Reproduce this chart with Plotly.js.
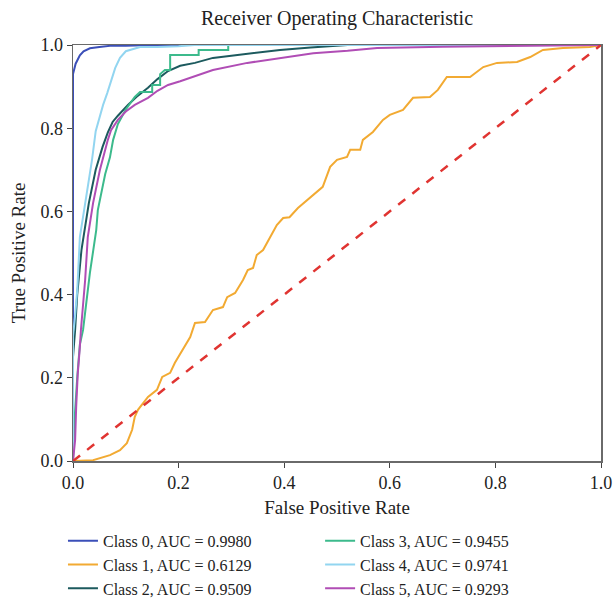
<!DOCTYPE html>
<html>
<head>
<meta charset="utf-8">
<script src="https://cdn.plot.ly/plotly-3.0.1.min.js"></script>
<style>html,body{margin:0;padding:0;background:#fff;}#chart{width:614px;height:599px;}</style>
</head>
<body>
<div id="chart"></div>
<script>
const classNames = ["Class 0", "Class 1", "Class 2", "Class 3", "Class 4", "Class 5"];
const aucValues = ["0.9980", "0.6129", "0.9509", "0.9455", "0.9741", "0.9293"];

const fpr0 = [0, 0, 0.005, 0.013, 0.02, 0.032, 0.05, 0.07, 0.1, 0.15, 0.3, 1];
const tpr0 = [0, 0.93, 0.955, 0.975, 0.985, 0.992, 0.995, 0.998, 0.998, 1, 1, 1];

const fpr1 = [0, 0.038, 0.07, 0.089, 0.102, 0.112, 0.117, 0.123, 0.142, 0.159, 0.169, 0.184, 0.193, 0.208, 0.222, 0.231, 0.25, 0.265, 0.284, 0.292, 0.307, 0.322, 0.331, 0.341, 0.348, 0.36, 0.386, 0.398, 0.41, 0.426, 0.449, 0.473, 0.487, 0.5, 0.519, 0.525, 0.544, 0.549, 0.568, 0.587, 0.6, 0.625, 0.644, 0.676, 0.691, 0.708, 0.752, 0.777, 0.803, 0.841, 0.866, 0.89, 0.928, 0.979, 1];
const tpr1 = [0, 0.002, 0.014, 0.026, 0.043, 0.075, 0.106, 0.123, 0.154, 0.171, 0.202, 0.212, 0.236, 0.267, 0.298, 0.332, 0.334, 0.363, 0.37, 0.394, 0.404, 0.435, 0.459, 0.464, 0.495, 0.507, 0.567, 0.584, 0.586, 0.608, 0.632, 0.659, 0.707, 0.724, 0.731, 0.748, 0.748, 0.772, 0.791, 0.82, 0.832, 0.844, 0.873, 0.875, 0.892, 0.923, 0.923, 0.947, 0.957, 0.959, 0.971, 0.988, 0.993, 0.995, 1];

const fpr2 = [0, 0, 0.004, 0.008, 0.016, 0.03, 0.043, 0.056, 0.066, 0.075, 0.085, 0.095, 0.104, 0.12, 0.142, 0.16, 0.18, 0.203, 0.231, 0.265, 0.33, 0.392, 0.45, 0.52, 1];
const tpr2 = [0, 0.25, 0.315, 0.40, 0.507, 0.62, 0.70, 0.755, 0.79, 0.815, 0.83, 0.845, 0.856, 0.875, 0.897, 0.918, 0.9375, 0.95, 0.957, 0.969, 0.978, 0.988, 0.994, 1, 1];

const fpr3 = [0, 0.003, 0.008, 0.013, 0.019, 0.023, 0.032, 0.044, 0.047, 0.061, 0.07, 0.076, 0.085, 0.1, 0.117, 0.127, 0.15, 0.15, 0.165, 0.165, 0.174, 0.184, 0.184, 0.238, 0.238, 0.294, 0.294, 1];
const tpr3 = [0, 0.1, 0.2, 0.28, 0.315, 0.356, 0.452, 0.555, 0.603, 0.69, 0.73, 0.772, 0.81, 0.845, 0.875, 0.887, 0.887, 0.904, 0.904, 0.93, 0.94, 0.94, 0.976, 0.976, 0.988, 0.988, 1, 1];

const fpr4 = [0, 0, 0.004, 0.008, 0.013, 0.021, 0.028, 0.036, 0.043, 0.049, 0.057, 0.065, 0.072, 0.08, 0.089, 0.1, 0.127, 0.16, 0.2, 0.23, 1];
const tpr4 = [0, 0.3, 0.35, 0.41, 0.538, 0.603, 0.66, 0.724, 0.793, 0.82, 0.856, 0.885, 0.913, 0.945, 0.969, 0.985, 0.995, 0.995, 0.997, 1, 1];

const fpr5 = [0, 0.002, 0.004, 0.006, 0.009, 0.013, 0.015, 0.023, 0.028, 0.038, 0.051, 0.066, 0.072, 0.085, 0.1, 0.117, 0.142, 0.16, 0.18, 0.203, 0.231, 0.265, 0.33, 0.392, 0.455, 0.52, 0.576, 0.7, 0.866, 1];
const tpr5 = [0, 0.02, 0.05, 0.13, 0.21, 0.274, 0.315, 0.435, 0.538, 0.62, 0.70, 0.772, 0.795, 0.82, 0.84, 0.856, 0.873, 0.89, 0.904, 0.913, 0.925, 0.94, 0.957, 0.969, 0.98, 0.986, 0.993, 0.996, 0.998, 1];

const chanceX = [0, 1];
const chanceY = [0, 1];

const colors = ["#3b4fb8", "#f2aa32", "#1c5a5e", "#3cba8c", "#92d5f0", "#b04db5"];
const fprs = [fpr0, fpr1, fpr2, fpr3, fpr4, fpr5];
const tprs = [tpr0, tpr1, tpr2, tpr3, tpr4, tpr5];

const FONT = "Liberation Serif, Times New Roman, serif";
const traces = [];
for (let i = 0; i < 6; i++) {
  traces.push({
    x: fprs[i], y: tprs[i], type: "scatter", mode: "lines",
    name: classNames[i] + ", AUC = " + aucValues[i],
    line: {color: colors[i], width: 2},
    legend: i < 3 ? "legend" : "legend2"
  });
}
traces.push({
  x: chanceX, y: chanceY, type: "scatter", mode: "lines",
  line: {color: "#e03431", width: 2.5, dash: "dash"},
  showlegend: false
});

const axisCommon = {
  range: [0, 1], dtick: 0.2, tickformat: ".1f",
  showgrid: false, zeroline: false,
  showline: true, mirror: true, linecolor: "#6a6a6a", linewidth: 1.5,
  ticks: "outside", ticklen: 5, tickcolor: "#444", tickwidth: 1,
  tickfont: {family: FONT, size: 18, color: "#222"}
};

const layout = {
  width: 614, height: 599,
  margin: {l: 73, r: 13, t: 45, b: 138, autoexpand: false},
  paper_bgcolor: "#fff", plot_bgcolor: "#fff",
  font: {family: FONT, color: "#222"},
  title: {text: "Receiver Operating Characteristic", x: 0.5, xref: "paper", y: 0.97, yanchor: "middle",
          font: {family: FONT, size: 20, color: "#222"}},
  xaxis: Object.assign({}, axisCommon, {title: {text: "False Positive Rate", standoff: 8, font: {family: FONT, size: 19, color: "#222"}}}),
  yaxis: Object.assign({}, axisCommon, {title: {text: "True Positive Rate", standoff: 10, font: {family: FONT, size: 19, color: "#222"}}}),
  legend: {x: -0.019, y: -0.151, xanchor: "left", yanchor: "top", orientation: "v",
           font: {family: FONT, size: 16, color: "#222"}, bgcolor: "rgba(0,0,0,0)", tracegroupgap: 0},
  legend2: {x: 0.468, y: -0.151, xanchor: "left", yanchor: "top", orientation: "v",
           font: {family: FONT, size: 16, color: "#222"}, bgcolor: "rgba(0,0,0,0)", tracegroupgap: 0},
  showlegend: true
};

Plotly.newPlot("chart", traces, layout, {displayModeBar: false, staticPlot: true});
</script>
</body>
</html>
